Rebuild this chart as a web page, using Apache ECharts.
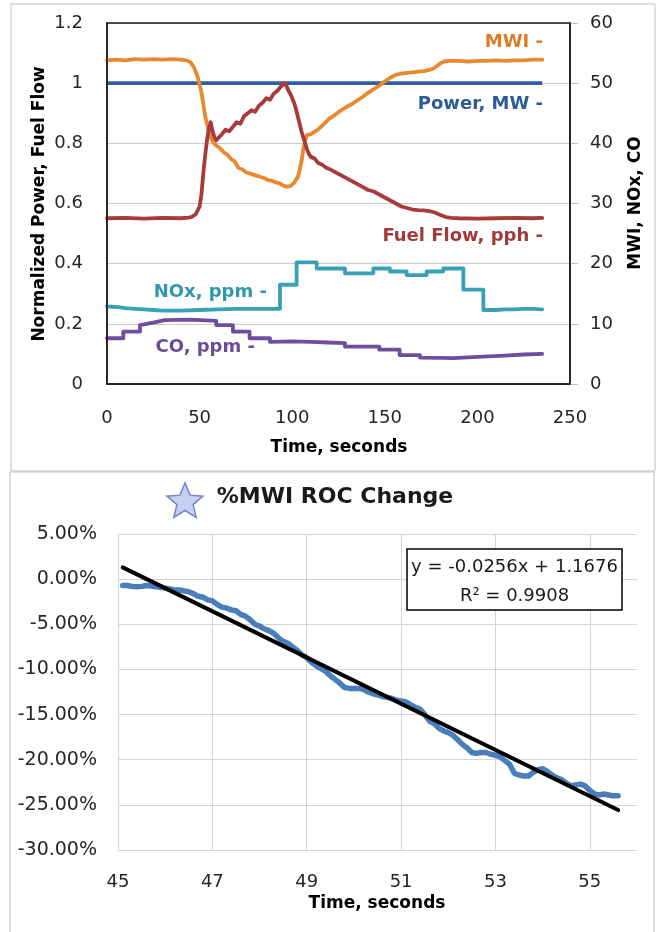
<!DOCTYPE html>
<html><head><meta charset="utf-8">
<script src="https://cdn.jsdelivr.net/npm/echarts@6/dist/echarts.min.js"></script>
<style>html,body{margin:0;padding:0;background:#fff}#c{width:660px;height:932px}</style>
</head><body><div id="c"></div>
<script>
// ---------- Top chart data (time in seconds) ----------
const powerT = [0, 50, 100, 150, 200, 235];
const powerV = [1.0, 1.0, 1.0, 1.0, 1.0, 1.0];           // normalized (left axis)

const fuelT = [0,10,20,30,40,44,46,48,50,51,52,53,54,55,56,57,58,59,60,62,64,66,68,70,72,74,76,78,80,82,84,86,88,90,92,93,94,95,96,97,98,99,100,101,102,103,104,105,106,107,108,109,110,112,114,116,118,120,123,126,129,132,135,138,141,144,147,150,153,156,159,162,165,168,171,174,177,180,183,186,190,200,210,220,230,235];
const fuelV = [0.551,0.552,0.550,0.552,0.551,0.553,0.556,0.565,0.59,0.63,0.70,0.76,0.81,0.85,0.87,0.84,0.82,0.81,0.815,0.83,0.845,0.84,0.855,0.87,0.865,0.89,0.90,0.91,0.905,0.925,0.935,0.95,0.945,0.965,0.975,0.97,0.99,0.985,1.0,0.99,0.975,0.965,0.95,0.935,0.915,0.89,0.865,0.84,0.82,0.80,0.78,0.765,0.755,0.75,0.735,0.73,0.72,0.715,0.705,0.695,0.685,0.675,0.665,0.655,0.645,0.64,0.63,0.62,0.61,0.60,0.59,0.585,0.58,0.578,0.577,0.575,0.57,0.562,0.555,0.552,0.551,0.550,0.551,0.552,0.551,0.552];

const mwiT = [0,5,10,15,20,25,30,35,40,43,45,47,49,51,53,55,57,59,61,63,65,67,69,71,73,75,77,79,81,83,85,87,89,91,93,95,97,99,101,103,104,105,106,107,108,110,112,114,116,118,120,123,126,129,132,135,138,141,144,147,150,153,156,159,162,165,168,171,174,176,178,180,182,185,190,195,200,205,210,215,220,225,230,235];
const mwiV = [53.8,53.9,53.8,54.0,53.9,54.0,53.9,54.0,53.9,53.8,53.5,52.6,51.0,48.5,44.5,42.0,40.3,39.6,39.2,38.5,38.1,37.4,37.0,35.9,35.7,35.2,35.0,34.8,34.6,34.4,34.2,33.9,33.8,33.5,33.4,33.0,32.8,32.9,33.4,34.4,35.5,37.0,39.0,40.5,41.4,41.5,41.9,42.3,42.9,43.5,44.1,44.7,45.4,46.0,46.5,47.1,47.7,48.4,49.0,49.6,50.3,50.9,51.4,51.6,51.7,51.8,51.9,52.0,52.2,52.4,52.8,53.3,53.6,53.7,53.7,53.6,53.7,53.7,53.8,53.7,53.8,53.8,53.9,53.9];

const noxT = [0,5,10,15,20,25,30,40,50,60,70,80,93.4,93.4,102.4,102.4,113.2,113.2,120,128.5,128.5,143.8,143.8,152.8,152.8,161.8,161.8,172.6,172.6,181.6,181.6,192.4,192.4,203.2,203.2,210,215,220,225,230,235];
const noxV = [12.9,12.8,12.6,12.5,12.4,12.3,12.2,12.2,12.3,12.4,12.5,12.5,12.5,16.5,16.5,20.2,20.2,19.2,19.2,19.2,18.4,18.4,19.2,19.2,18.7,18.7,18.1,18.1,18.7,18.7,19.2,19.2,15.7,15.7,12.3,12.3,12.4,12.4,12.5,12.5,12.4];

const coT = [0,8.8,8.8,17.8,17.8,25,31,45,59,59,68,68,77,77,88,88,100,110,119,119,128.5,128.5,147,147,158,158,169,169,180,187,200,215,225,235];
const coV = [7.6,7.6,8.7,8.7,9.8,10.2,10.6,10.7,10.5,9.8,9.8,8.7,8.7,7.6,7.6,7.0,7.1,7.0,6.9,6.8,6.8,6.2,6.2,5.7,5.7,4.8,4.8,4.4,4.35,4.3,4.5,4.7,4.9,5.0];

const topXTicks = {min: 0, max: 250, interval: 50};
const leftYTicks = {min: 0, max: 1.2, interval: 0.2};
const rightYTicks = {min: 0, max: 60, interval: 10};

// ---------- Bottom chart data ----------
const rocT = [45.1,45.2,45.3,45.4,45.5,45.6,45.7,45.8,45.9,46.0,46.1,46.2,46.3,46.4,46.5,46.6,46.7,46.8,46.9,47.0,47.1,47.2,47.3,47.4,47.5,47.6,47.7,47.8,47.9,48.0,48.1,48.2,48.3,48.4,48.5,48.6,48.7,48.8,48.9,49.0,49.1,49.2,49.3,49.4,49.5,49.6,49.7,49.8,49.9,50.0,50.1,50.2,50.3,50.4,50.5,50.6,50.7,50.8,50.9,51.0,51.1,51.2,51.3,51.4,51.5,51.6,51.7,51.8,51.9,52.0,52.1,52.2,52.3,52.4,52.5,52.6,52.7,52.8,52.9,53.0,53.1,53.2,53.3,53.4,53.5,53.6,53.7,53.8,53.9,54.0,54.1,54.2,54.3,54.4,54.5,54.6,54.7,54.8,54.9,55.0,55.1,55.2,55.3,55.4,55.5,55.6];
const rocPct = [-0.7,-0.7,-0.8,-0.85,-0.8,-0.7,-0.75,-0.85,-0.9,-1.0,-1.1,-1.2,-1.2,-1.3,-1.4,-1.6,-1.9,-2.0,-2.3,-2.4,-2.8,-3.1,-3.2,-3.4,-3.5,-3.9,-4.1,-4.5,-5.0,-5.2,-5.5,-5.7,-6.0,-6.5,-6.9,-7.1,-7.5,-7.9,-8.4,-8.7,-9.2,-9.6,-9.9,-10.2,-10.7,-11.1,-11.5,-12.0,-12.1,-12.1,-12.1,-12.2,-12.5,-12.7,-12.8,-13.0,-13.1,-13.2,-13.4,-13.5,-13.6,-13.9,-14.2,-14.4,-15.0,-15.7,-16.0,-16.5,-16.8,-17.0,-17.3,-17.8,-18.3,-18.7,-19.2,-19.3,-19.2,-19.2,-19.4,-19.5,-19.7,-20.1,-20.5,-21.5,-21.7,-21.8,-21.8,-21.4,-21.1,-21.0,-21.3,-21.7,-22.0,-22.2,-22.6,-22.9,-22.8,-22.7,-22.9,-23.4,-23.8,-23.9,-23.8,-23.9,-24.0,-24.0];
const trendSlope = -0.0256;
const trendIntercept = 1.1676;
const trendT = [45.1, 55.6];
const eqLine1 = 'y = -0.0256x + 1.1676';
const eqLine2 = 'R² = 0.9908';

const botXTicks = {min: 45, max: 56, interval: 2};
const botYTicks = {min: -0.30, max: 0.05, interval: 0.05};

// ---------- build ----------
const pairs = (t, v) => t.map((x, i) => [x, v[i]]);
const FONT = 'DejaVu Sans';
const TXT = '#262626';
const GRID = '#d4d4d4';

function starPoints(cx, cy, ro, ri) {
  const pts = [];
  for (let i = 0; i < 10; i++) {
    const r = i % 2 === 0 ? ro : ri;
    const a = -Math.PI / 2 + i * Math.PI / 5;
    pts.push([cx + r * Math.cos(a), cy + r * Math.sin(a)]);
  }
  return pts;
}

const lbl = (text, x, y, color, align) => ({
  type: 'text', x: x, y: y, z: 100,
  style: {text: text, fill: color, font: 'bold 18px "DejaVu Sans"', textAlign: align || 'right', textVerticalAlign: 'middle'}
});

const chart = echarts.init(document.getElementById('c'), null, {renderer: 'canvas'});
chart.setOption({
  animation: false,
  backgroundColor: '#ffffff',
  grid: [
    {left: 107, top: 23, width: 463, height: 361},
    {left: 118, top: 534, width: 519, height: 316}
  ],
  xAxis: [
    {gridIndex: 0, type: 'value', min: topXTicks.min, max: topXTicks.max, interval: topXTicks.interval,
     axisLine: {show: true, lineStyle: {color: '#1a1a1a', width: 1.5}}, axisTick: {show: false}, splitLine: {show: false},
     axisLabel: {fontFamily: FONT, fontSize: 18, color: TXT, margin: 25}},
    {gridIndex: 1, type: 'value', min: botXTicks.min, max: botXTicks.max, interval: botXTicks.interval,
     axisLine: {show: true, lineStyle: {color: GRID}}, axisTick: {show: false},
     splitLine: {show: true, lineStyle: {color: [GRID, GRID, GRID, GRID, GRID, GRID, 'rgba(0,0,0,0)'], width: 1}},
     axisLabel: {fontFamily: FONT, fontSize: 18, color: TXT, margin: 23, showMaxLabel: false}}
  ],
  yAxis: [
    {gridIndex: 0, type: 'value', min: leftYTicks.min, max: leftYTicks.max, interval: leftYTicks.interval,
     axisLine: {show: true, lineStyle: {color: '#1a1a1a', width: 1.5}}, axisTick: {show: false},
     splitLine: {show: true, lineStyle: {color: '#cccccc', width: 1}},
     axisLabel: {fontFamily: FONT, fontSize: 18, color: TXT, margin: 24,
       formatter: v => String(Math.round(v * 10) / 10)}},
    {gridIndex: 0, type: 'value', position: 'right', min: rightYTicks.min, max: rightYTicks.max, interval: rightYTicks.interval,
     axisLine: {show: true, lineStyle: {color: '#1a1a1a', width: 1.5}},
     axisTick: {show: true, length: 8, lineStyle: {color: '#bfbfbf'}},
     splitLine: {show: false},
     axisLabel: {fontFamily: FONT, fontSize: 18, color: TXT, margin: 20}},
    {gridIndex: 1, type: 'value', min: botYTicks.min, max: botYTicks.max, interval: botYTicks.interval,
     axisLine: {show: true, lineStyle: {color: GRID}}, axisTick: {show: false},
     splitLine: {show: true, lineStyle: {color: GRID, width: 1}},
     axisLabel: {fontFamily: FONT, fontSize: 19, color: TXT, margin: 21,
       formatter: v => (Math.round(v * 10000) / 100 + 0).toFixed(2) + '%'}}
  ],
  series: [
    {name: 'Power', type: 'line', xAxisIndex: 0, yAxisIndex: 0, data: pairs(powerT, powerV), showSymbol: false,
     lineStyle: {color: '#2F5FA6', width: 3.8}, z: 4},
    {name: 'MWI', type: 'line', xAxisIndex: 0, yAxisIndex: 1, data: pairs(mwiT, mwiV), showSymbol: false,
     lineStyle: {color: '#E8892F', width: 3.8, join: 'round', cap: 'round'}, z: 5},
    {name: 'Fuel Flow', type: 'line', xAxisIndex: 0, yAxisIndex: 0, data: pairs(fuelT, fuelV), showSymbol: false,
     lineStyle: {color: '#A83A3A', width: 3.8, join: 'round', cap: 'round'}, z: 5},
    {name: 'NOx', type: 'line', xAxisIndex: 0, yAxisIndex: 1, data: pairs(noxT, noxV), showSymbol: false,
     lineStyle: {color: '#3AA0B8', width: 3.8, join: 'round', cap: 'round'}, z: 5},
    {name: 'CO', type: 'line', xAxisIndex: 0, yAxisIndex: 1, data: pairs(coT, coV), showSymbol: false,
     lineStyle: {color: '#6F4E9D', width: 3.8, join: 'round', cap: 'round'}, z: 5},
    {name: '%MWI ROC', type: 'line', xAxisIndex: 1, yAxisIndex: 2, data: pairs(rocT, rocPct.map(p => p / 100)), showSymbol: false,
     lineStyle: {color: '#4A7EBB', width: 5.5, join: 'round', cap: 'round'}, z: 5},
    {name: 'Trend', type: 'line', xAxisIndex: 1, yAxisIndex: 2, data: trendT.map(t => [t, trendSlope * t + trendIntercept]), showSymbol: false,
     lineStyle: {color: '#000000', width: 4, cap: 'round'}, z: 6}
  ],
  graphic: [
    {type: 'rect', shape: {x: 11, y: 4, width: 644, height: 467}, style: {fill: 'none', stroke: '#bfbfbf', lineWidth: 1}, z: -1},
    {type: 'rect', shape: {x: 10, y: 472, width: 644, height: 480}, style: {fill: 'none', stroke: '#bfbfbf', lineWidth: 1}, z: -1},
    // plot-area frame of the top chart
    {type: 'rect', shape: {x: 107, y: 23, width: 463, height: 361}, style: {fill: 'none', stroke: '#1a1a1a', lineWidth: 1.5}, z: 50},
    lbl('MWI -', 543, 42, '#E07B22'),
    lbl('Power, MW -', 543, 104, '#2D5B9A'),
    lbl('Fuel Flow, pph -', 543, 236, '#A13A3A'),
    lbl('NOx, ppm -', 267, 292, '#2E98AF'),
    lbl('CO, ppm -', 255, 347, '#6B4C99'),
    {type: 'text', x: 40, y: 204, rotation: Math.PI / 2, z: 100,
     style: {text: 'Normalized Power, Fuel Flow', fill: '#000', font: 'bold 17px "DejaVu Sans"', textAlign: 'center', textVerticalAlign: 'middle'}},
    {type: 'text', x: 636, y: 203, rotation: Math.PI / 2, z: 100,
     style: {text: 'MWI, NOx, CO', fill: '#000', font: 'bold 17px "DejaVu Sans"', textAlign: 'center', textVerticalAlign: 'middle'}},
    {type: 'text', x: 339, y: 448, z: 100,
     style: {text: 'Time, seconds', fill: '#000', font: 'bold 17px "DejaVu Sans"', textAlign: 'center', textVerticalAlign: 'middle'}},
    {type: 'polygon', shape: {points: starPoints(185, 502, 19, 8.5)}, style: {fill: '#C8D0F2', stroke: '#7586C8', lineWidth: 1.5}, z: 100},
    {type: 'text', x: 335, y: 497, z: 100,
     style: {text: '%MWI ROC Change', fill: '#1a1a1a', font: 'bold 22px "DejaVu Sans"', textAlign: 'center', textVerticalAlign: 'middle'}},
    {type: 'rect', shape: {x: 407, y: 549, width: 215, height: 61}, style: {fill: '#ffffff', stroke: '#000', lineWidth: 1.5}, z: 100},
    {type: 'text', x: 514.5, y: 567, z: 101,
     style: {text: eqLine1, fill: '#1a1a1a', font: '18px "DejaVu Sans"', textAlign: 'center', textVerticalAlign: 'middle'}},
    {type: 'text', x: 514.5, y: 596, z: 101,
     style: {text: eqLine2, fill: '#1a1a1a', font: '18px "DejaVu Sans"', textAlign: 'center', textVerticalAlign: 'middle'}},
    {type: 'text', x: 377, y: 904, z: 100,
     style: {text: 'Time, seconds', fill: '#000', font: 'bold 17px "DejaVu Sans"', textAlign: 'center', textVerticalAlign: 'middle'}}
  ]
});
</script>
</body></html>
